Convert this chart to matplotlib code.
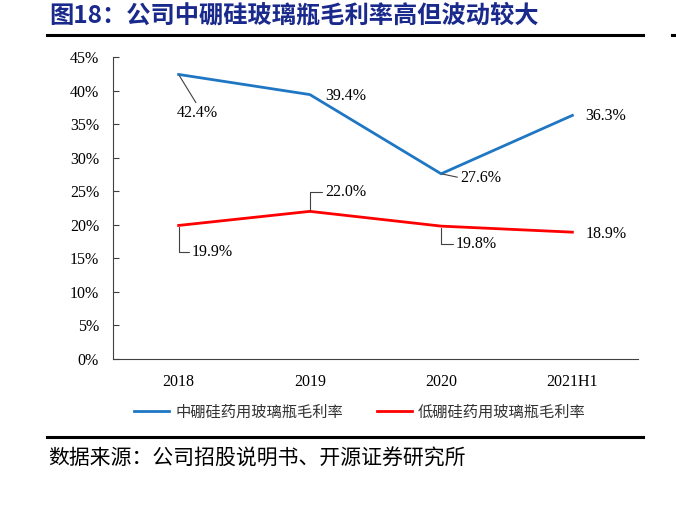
import matplotlib
matplotlib.use("Agg")
import matplotlib.pyplot as plt

categories = ["2018", "2019", "2020", "2021H1"]
mid_boro = [42.4, 39.4, 27.6, 36.3]
low_boro = [19.9, 22.0, 19.8, 18.9]
yticks = [0, 5, 10, 15, 20, 25, 30, 35, 40, 45]
series_names = ["中硼硅药用玻璃瓶毛利率", "低硼硅药用玻璃瓶毛利率"]
title = "图18：公司中硼硅玻璃瓶毛利率高但波动较大"
source = "数据来源：公司招股说明书、开源证券研究所"

CJK = ["Noto Sans CJK SC", "DejaVu Sans"]
SERIF = "Liberation Serif"

fig = plt.figure(figsize=(6.76, 5.08), dpi=100)
W, H = 676, 508
ax = fig.add_axes([113 / W, 1 - 359 / H, (638 - 113) / W, (359 - 57) / H])

x = list(range(len(categories)))
l1, = ax.plot(x, mid_boro, color="#1F77C4", lw=2.0, solid_joinstyle="miter")
l2, = ax.plot(x, low_boro, color="#FF0000", lw=2.0, solid_joinstyle="miter")

ax.set_xlim(-0.5, len(categories) - 0.5)
ax.set_ylim(0, 45)
ax.set_yticks(yticks)
ax.set_yticklabels([f"{v}%" for v in yticks], family=SERIF, fontsize=11.5)
ax.set_xticks(x)
ax.set_xticklabels(categories, family=SERIF, fontsize=11.5)
ax.tick_params(axis="y", direction="in", length=4, width=0.8, color="#404040", pad=10)
ax.tick_params(axis="x", length=0, pad=11)
for s in ["top", "right"]:
    ax.spines[s].set_visible(False)
for s in ["left", "bottom"]:
    ax.spines[s].set_color("#404040")
    ax.spines[s].set_linewidth(0.8)

lead = dict(arrowstyle="-", color="#404040", lw=0.8, shrinkA=0, shrinkB=1)

def lab(i, v, dx, dy, style=None, relpos=(0, 0.5), ha="left"):
    ap = None
    if style is not None:
        ap = dict(lead, connectionstyle=style, relpos=relpos)
    ax.annotate(f"{v:.1f}%", xy=(i, v), xytext=(dx, dy), textcoords="offset pixels",
                ha=ha, va="center", family=SERIF, fontsize=11.5, arrowprops=ap)

# blue labels
lab(0, mid_boro[0], 19, -39, style="arc3", relpos=(0.5, 1.0), ha="center")
lab(1, mid_boro[1], 15, -1)
lab(2, mid_boro[2], 19, -4, style="arc3", relpos=(0, 0.5))
lab(3, mid_boro[3], 13, -1)
# red labels
lab(0, low_boro[0], 13, -27, style="angle,angleA=0,angleB=90,rad=0")
lab(1, low_boro[1], 15, 19, style="angle,angleA=0,angleB=90,rad=0")
lab(2, low_boro[2], 15, -18, style="angle,angleA=0,angleB=90,rad=0")
lab(3, low_boro[3], 13, -2)

leg = fig.legend([l1, l2], series_names, loc="center", bbox_to_anchor=(360 / W, 1 - 412 / H),
                 ncol=2, frameon=False, prop={"family": CJK, "size": 11},
                 handlelength=2.3, handletextpad=0.4, columnspacing=2.2)
for t in leg.get_texts():
    t.set_color("#333333")

fig.text(49 / W, 1 - 15 / H, title, family=CJK, fontsize=17.5, fontweight="bold",
         color="#1A2A8C", ha="left", va="center")
fig.add_artist(plt.Line2D([47 / W, 643 / W], [1 - 35 / H, 1 - 35 / H], color="black", lw=2.2))
fig.add_artist(plt.Line2D([672 / W, 1.0], [1 - 35 / H, 1 - 35 / H], color="black", lw=2.2))
fig.add_artist(plt.Line2D([47 / W, 643 / W], [1 - 437 / H, 1 - 437 / H], color="black", lw=2.2))
fig.text(48 / W, 1 - 459 / H, source, family=CJK, fontsize=15, color="black",
         ha="left", va="center")

fig.savefig("out.png", dpi=100)
